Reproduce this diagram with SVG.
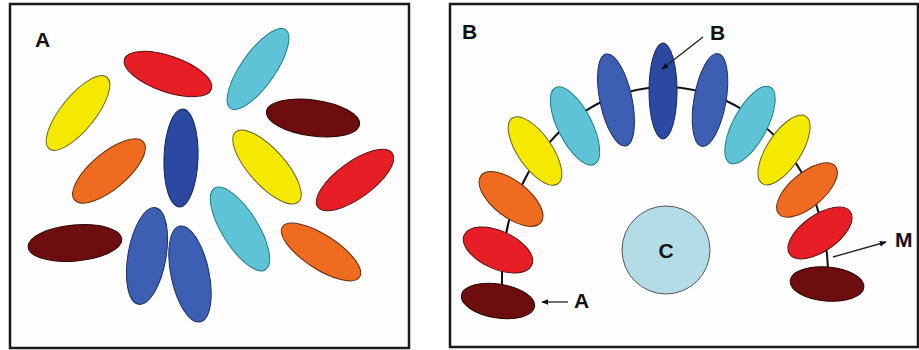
<svg xmlns="http://www.w3.org/2000/svg" width="919" height="350" viewBox="0 0 919 350">
<defs>
<marker id="ah" viewBox="0 0 10 10" refX="9" refY="5" markerWidth="7" markerHeight="7" orient="auto" markerUnits="userSpaceOnUse">
<path d="M0,1 L10,5 L0,9 z" fill="#111"/>
</marker>
</defs>
<style>
.panel{fill:#fdfdfd;stroke:#1a1a1a;stroke-width:2.5}
.red{fill:#e71e26;stroke:#5a1010;stroke-width:1}
.cyan{fill:#5ec3d6;stroke:#1b7f86;stroke-width:1}
.yel{fill:#f5e900;stroke:#6a6420;stroke-width:1}
.drk{fill:#6e0d0d;stroke:#2a0505;stroke-width:1}
.blu{fill:#3d5fb3;stroke:#1c2d66;stroke-width:1}
.dblu{fill:#2b48a3;stroke:#15245a;stroke-width:1}
.org{fill:#ee6b1f;stroke:#6a2a0a;stroke-width:1}
.lbl{font-family:"Liberation Sans",Arial,sans-serif;font-weight:bold;font-size:21px;fill:#111}
.blbl{font-family:"Liberation Sans Narrow","Liberation Sans",Arial,sans-serif;font-weight:bold;font-size:21px;fill:#111}
.con{fill:none;stroke:#111;stroke-width:2}
.arr{fill:none;stroke:#222;stroke-width:1.3;marker-end:url(#ah)}
</style>
<rect class="panel" x="10" y="4" width="399" height="344"/>
<rect class="panel" x="450" y="4" width="468" height="343"/>
<text class="lbl" x="35" y="47">A</text>
<text class="lbl" x="462" y="39">B</text>
<g id="panelA">
<g id="a1"><ellipse class="red" cx="168" cy="74" rx="46" ry="18" transform="rotate(19 168 74)"/></g>
<g id="a2"><ellipse class="cyan" cx="258" cy="69" rx="48" ry="17" transform="rotate(-55 258 69)"/></g>
<g id="a3"><ellipse class="yel" cx="78" cy="113" rx="46" ry="17" transform="rotate(-51 78 113)"/></g>
<g id="a4"><ellipse class="drk" cx="313" cy="118" rx="47" ry="18" transform="rotate(8 313 118)"/></g>
<g id="a5"><ellipse class="dblu" cx="181" cy="158" rx="17" ry="49" transform="rotate(2 181 158)"/></g>
<g id="a6"><ellipse class="org" cx="109" cy="171" rx="45" ry="18" transform="rotate(-40 109 171)"/></g>
<g id="a7"><ellipse class="yel" cx="267" cy="167" rx="47" ry="18" transform="rotate(48 267 167)"/></g>
<g id="a8"><ellipse class="red" cx="355" cy="180" rx="46" ry="18" transform="rotate(-36 355 180)"/></g>
<g id="a9"><ellipse class="cyan" cx="240" cy="229" rx="48" ry="18" transform="rotate(58 240 229)"/></g>
<g id="a10"><ellipse class="org" cx="321" cy="252" rx="46" ry="17" transform="rotate(33 321 252)"/></g>
<g id="a11"><ellipse class="drk" cx="75" cy="243" rx="47" ry="18" transform="rotate(-5 75 243)"/></g>
<g id="a12"><ellipse class="blu" cx="147" cy="256" rx="19" ry="49" transform="rotate(10 147 256)"/></g>
<g id="a13"><ellipse class="blu" cx="190" cy="274" rx="19" ry="49" transform="rotate(-12 190 274)"/></g>
</g>
<g id="connectors">
<path class="con" d="M502 285 V275 A163 188 0 0 1 828 275 V267"/>
</g>
<g id="panelB">
<g id="b1"><ellipse class="drk" cx="498" cy="301" rx="37" ry="17" transform="rotate(9 498 301)"/></g>
<g id="b2"><ellipse class="red" cx="498" cy="250" rx="37" ry="19" transform="rotate(24 498 250)"/></g>
<g id="b3"><ellipse class="org" cx="511" cy="199" rx="38" ry="18" transform="rotate(38 511 199)"/></g>
<g id="b4"><ellipse class="yel" cx="535" cy="151" rx="40" ry="17" transform="rotate(55 535 151)"/></g>
<g id="b5"><ellipse class="cyan" cx="575" cy="126" rx="43" ry="17" transform="rotate(63 575 126)"/></g>
<g id="b6"><ellipse class="blu" cx="616" cy="100" rx="16" ry="47" transform="rotate(-12 616 100)"/></g>
<g id="b7"><ellipse class="dblu" cx="663" cy="91" rx="14" ry="48"/></g>
<g id="b8"><ellipse class="blu" cx="710" cy="100" rx="16" ry="47" transform="rotate(10 710 100)"/></g>
<g id="b9"><ellipse class="cyan" cx="750" cy="125" rx="17" ry="43" transform="rotate(28 750 125)"/></g>
<g id="b10"><ellipse class="yel" cx="784" cy="150" rx="17" ry="40" transform="rotate(33 784 150)"/></g>
<g id="b11"><ellipse class="org" cx="807" cy="190" rx="17" ry="37" transform="rotate(50 807 190)"/></g>
<g id="b12"><ellipse class="red" cx="820" cy="233" rx="18" ry="37" transform="rotate(55 820 233)"/></g>
<g id="b13"><ellipse class="drk" cx="827" cy="284" rx="37" ry="17" transform="rotate(5 827 284)"/></g>
<g id="c"><circle cx="666" cy="250" r="44" fill="#b4dce6" stroke="#555" stroke-width="1"/><text class="blbl" x="666" y="258" text-anchor="middle">C</text></g>
</g>
<g id="arrows">
<line class="arr" x1="703" y1="37" x2="662" y2="69"/>
<line class="arr" x1="833" y1="257" x2="886" y2="242"/>
<line class="arr" x1="568" y1="302" x2="542" y2="302"/>
</g>
<text class="blbl" x="710" y="40">B</text>
<text class="blbl" x="895" y="247">M</text>
<text class="blbl" x="574" y="308">A</text>
</svg>
